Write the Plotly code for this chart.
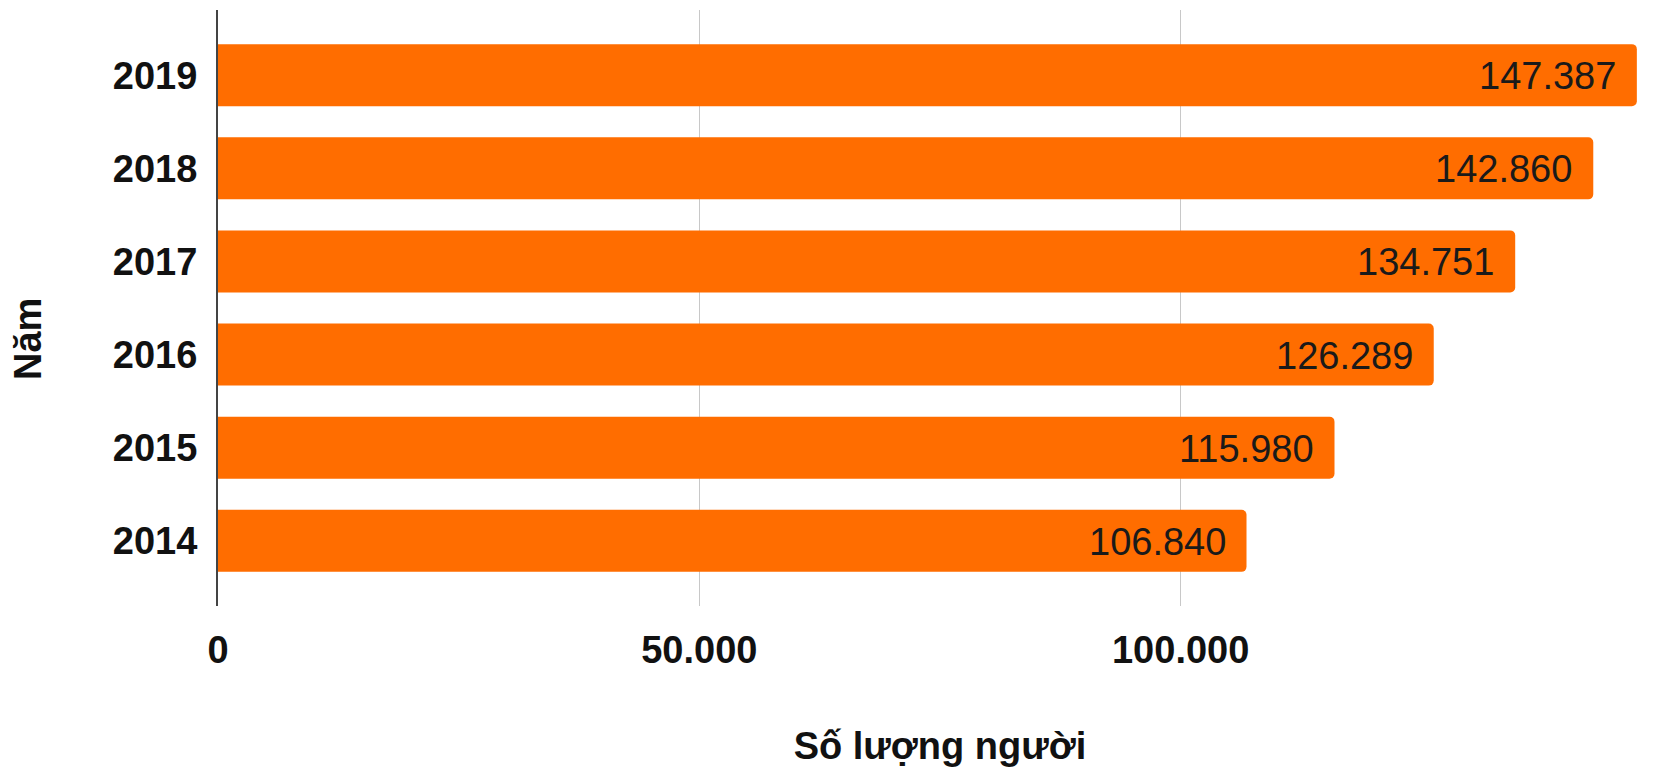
import plotly.graph_objects as go

years = ["2014", "2015", "2016", "2017", "2018", "2019"]
people = [106840, 115980, 126289, 134751, 142860, 147387]
x_tickvals = [0, 50000, 100000, 150000]
x_ticktext = ["0", "50.000", "100.000", ""]
x_title = "Số lượng người"
y_title = "Năm"

FONT = "Liberation Sans, Arial, sans-serif"
ORANGE = "#FF6D00"

fig = go.Figure()
fig.add_trace(go.Bar(
    y=years, x=people, orientation="h",
    marker=dict(color=ORANGE, cornerradius=5, line=dict(width=0)),
    hoverinfo="x+y",
))

for i, v in enumerate(people):
    fig.add_annotation(
        x=v, y=i, xref="x", yref="y",
        text=f"{v:,}".replace(",", "."),
        showarrow=False, xanchor="right", yanchor="middle", xshift=-19, yshift=-1,
        font=dict(family=FONT, size=38, color="#1a1a1a"),
    )

fig.add_annotation(
    xref="paper", yref="paper",
    x=(28 - 218) / (1663 - 218 - 1), y=1 - (339 - 10) / (767 - 10 - 161),
    xanchor="center", yanchor="middle",
    text=f"<b>{y_title}</b>",
    showarrow=False, textangle=-90, font=dict(family=FONT, size=38, color="#111"),
)

fig.update_layout(
    width=1663, height=767,
    margin=dict(l=218, r=1, t=10, b=161),
    paper_bgcolor="white", plot_bgcolor="white",
    bargap=0.333,
    showlegend=False,
    separators=",.",
    font=dict(family=FONT, color="#111"),
    xaxis=dict(
        range=[0, 150000],
        tickvals=x_tickvals, ticktext=x_ticktext,
        showgrid=True, gridcolor="#c8c8c8", gridwidth=1,
        zeroline=False, showline=False,
        tickfont=dict(family=FONT, size=38, color="#111", weight="bold"),
        ticklabelstandoff=18,
        title=dict(text=f"<b>{x_title}</b>", font=dict(family=FONT, size=38, color="#111"), standoff=63),
    ),
    yaxis=dict(
        type="category",
        range=[-0.7, 5.7],
        showgrid=False, zeroline=False,
        showline=True, linecolor="#444", linewidth=2,
        tickfont=dict(family=FONT, size=38, color="#111", weight="bold"),
        ticklabelstandoff=11,
    ),
)

fig.write_html("out.html")
